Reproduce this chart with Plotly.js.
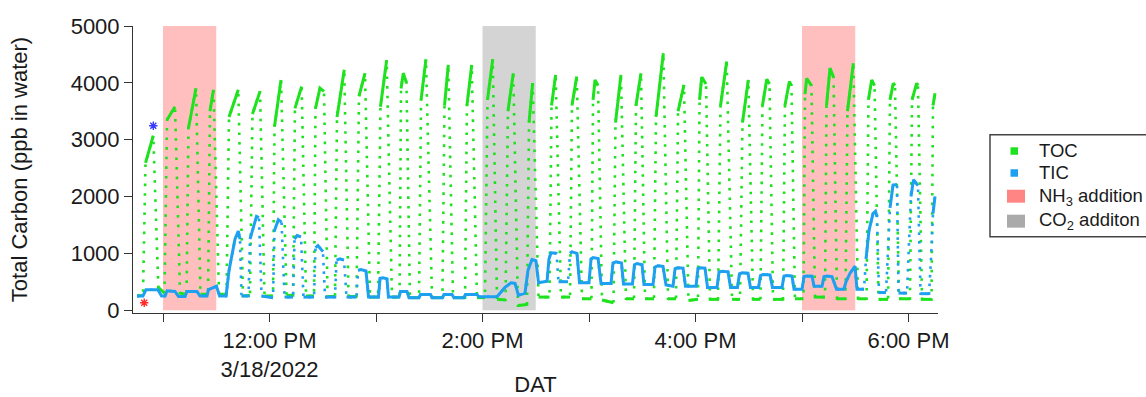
<!DOCTYPE html>
<html>
<head>
<meta charset="utf-8">
<script src="https://cdn.plot.ly/plotly-3.0.1.min.js"></script>
<style>html,body{margin:0;padding:0;background:#fff;}#chart{width:1146px;height:397px;}</style>
</head>
<body>
<div id="chart"></div>
<script>
// ---------- data (clock time in decimal hours, 3/18/2022) ----------
const TOC_HOUR = [
10.756,10.812,10.836,10.909,10.956,
11.014,11.038,11.113,11.160,
11.221,11.239,11.310,11.352,
11.423,11.441,11.474,11.526,
11.596,11.620,11.707,11.751,
11.817,11.840,11.911,11.953,
12.033,12.047,12.108,12.160,
12.221,12.239,12.302,12.343,
12.418,12.432,12.474,12.512,12.545,
12.615,12.634,12.702,12.742,
12.817,12.840,12.897,12.944,
13.019,13.042,13.100,13.150,
13.221,13.235,13.256,13.286,13.319,
13.404,13.423,13.469,13.526,
13.624,13.643,13.679,13.723,
13.836,13.854,13.899,13.948,
14.023,14.047,14.096,14.136,
14.216,14.239,14.289,14.333,
14.418,14.437,14.471,14.526,
14.629,14.648,14.687,14.737,
14.822,14.840,14.885,14.934,
15.023,15.038,15.056,15.085,15.122,
15.230,15.249,15.300,15.347,
15.423,15.441,15.488,15.526,
15.610,15.629,15.698,15.742,
15.817,15.836,15.892,15.934,
16.023,16.038,16.058,16.099,16.136,
16.211,16.235,16.293,16.343,
16.418,16.441,16.496,16.540,
16.610,16.629,16.669,16.695,16.728,
16.822,16.840,16.881,16.901,16.934,
17.014,17.028,17.044,17.089,17.122,
17.216,17.230,17.263,17.296,17.329,
17.408,17.427,17.482,17.526,
17.606,17.624,17.654,17.681,17.718,
17.808,17.826,17.857,17.873,17.911,
18.014,18.033,18.077,18.089,18.127,
18.216,18.230,18.249];
const TOC_PPB = [
250,260,2590,3070,400,
300,3350,3580,300,
280,3200,3906,280,
280,3500,3880,280,
280,3400,3880,250,
260,3450,3850,250,
250,3230,4050,260,
260,3550,3935,250,
250,3550,3906,3850,240,
240,3400,4230,240,
240,3760,4170,230,
230,3580,4400,230,
230,3900,4170,4000,220,
220,3700,4415,220,
220,3600,4315,220,
220,3600,4315,220,
220,3700,4415,190,
180,3500,4170,80,
100,3300,3994,230,
230,3600,4140,230,
230,3600,4110,200,
200,3700,4050,3950,180,
130,3300,4140,200,
200,3600,4170,200,
200,3400,4520,200,
200,3500,3964,170,
190,3700,4100,3980,190,
190,3600,4374,190,
190,3300,4052,190,
190,3600,4064,3980,190,
190,3600,4023,3950,200,
200,3800,4080,3950,230,
230,3600,4257,4100,200,
200,3500,4345,200,
200,3700,4052,3950,190,
190,3700,3994,3950,200,
200,3700,3994,3950,190,
190,3600,3818];

const TIC_HOUR = [
10.756,10.812,10.840,10.953,10.986,11.019,11.038,11.113,11.146,11.207,11.225,11.319,11.347,11.413,11.427,11.502,11.531,
11.592,11.620,11.676,11.707,11.723,11.737,
11.803,11.817,11.878,11.901,11.925,
12.033,12.047,12.083,12.113,12.141,
12.221,12.235,12.258,12.296,12.319,
12.418,12.432,12.455,12.502,12.521,
12.615,12.629,12.662,12.700,12.723,
12.817,12.831,12.859,12.906,12.930,
13.023,13.038,13.066,13.103,13.117,
13.216,13.230,13.291,13.310,
13.404,13.418,13.512,13.526,
13.624,13.638,13.714,13.732,
13.826,13.840,13.948,13.967,
14.136,14.211,14.268,14.305,14.338,
14.399,14.427,14.465,14.502,14.526,
14.606,14.624,14.643,14.695,14.714,
14.803,14.822,14.840,14.887,14.911,
15.000,15.019,15.038,15.085,15.113,
15.207,15.225,15.254,15.305,15.324,
15.408,15.427,15.451,15.498,15.516,
15.601,15.620,15.648,15.695,15.723,
15.789,15.808,15.836,15.883,15.906,
16.005,16.023,16.042,16.089,16.113,
16.202,16.221,16.249,16.305,16.329,
16.394,16.413,16.437,16.493,16.516,
16.592,16.610,16.634,16.700,16.723,
16.812,16.831,16.859,16.906,16.925,
17.000,17.019,17.047,17.094,17.113,
17.188,17.207,17.235,17.282,17.324,
17.394,17.413,17.451,17.498,17.516,
17.582,17.601,17.629,17.667,17.690,17.704,17.723,
17.789,17.808,17.826,17.855,17.892,17.906,
17.986,18.005,18.023,18.047,18.089,18.113,
18.193,18.211,18.230,18.249];
const TIC_PPB = [
250,250,360,360,250,250,340,330,240,240,330,330,250,250,360,420,250,
250,700,1250,1390,1250,250,
250,1250,1650,1630,250,
220,1400,1593,1550,230,
230,1250,1312,1290,230,
230,1100,1136,1030,230,
230,880,902,880,230,
230,700,715,690,230,
230,560,569,550,230,
230,330,330,220,
220,275,275,220,
220,275,275,220,
220,275,275,235,
235,400,481,470,260,
300,700,890,870,481,
510,900,1008,1000,500,
500,1000,1025,1000,481,
481,900,925,910,470,
470,830,850,830,460,
460,800,820,800,450,
450,760,780,770,445,
422,730,744,740,422,
422,730,744,740,400,
400,670,685,675,400,
400,640,656,650,400,
400,610,627,620,400,
400,600,610,600,370,
370,590,600,597,422,
422,590,600,590,370,
370,500,650,773,370,
370,900,1400,1700,1740,1650,310,
310,1100,1800,2200,2210,300,
300,1200,2000,2295,2190,290,
290,900,1700,2002];

const NH3_START = [11.0, 17.0];
const NH3_END   = [11.5, 17.5];
const CO2_START = [14.0];
const CO2_END   = [14.5];

const STAR_HOUR = [10.909, 10.824];
const STAR_PPB  = [3244, 130];
const STAR_COLOR = ['#3a3aff', '#ff2a2a'];

const X_TICK_HOURS = [12,14,16,18];
const X_TICK_TEXT  = ['12:00 PM<br>3/18/2022', '2:00 PM', '4:00 PM', '6:00 PM'];
const X_MINOR_HOURS = [11,13,15,17];
const Y_TICKS = [0,1000,2000,3000,4000,5000];

const LEGEND_LABELS = ['TOC', 'TIC', 'NH<sub>3</sub> addition', 'CO<sub>2</sub> additon'];

// ---------- styling ----------
const GREEN = '#1de21d', BLUE = '#1ea0f0';
const PINK = '#ffbfbf', GREY = '#d4d4d4', PINK_KEY = '#ff8585', GREY_KEY = '#aaaaaa';
const FONT = 'Liberation Sans, Arial, Helvetica, sans-serif';

function pad(n){ return String(n).padStart(2,'0'); }
function toTime(h){
  const s = Math.round(h*3600);
  return '2022-03-18 ' + pad(Math.floor(s/3600)) + ':' + pad(Math.floor((s%3600)/60)) + ':' + pad(s%60);
}
// fast changes look dotted (sparse samples), slow parts look solid
const FAST = 25000; // ppb per hour
function solidPart(h, v){
  const x = [], y = [];
  for (let i = 0; i < h.length; i++){
    x.push(toTime(h[i])); y.push(v[i]);
    if (i < h.length-1){
      const rate = Math.abs(v[i+1]-v[i]) / (h[i+1]-h[i]);
      if (rate > FAST){ x.push(null); y.push(null); }
    }
  }
  return {x, y};
}

const tocSolid = solidPart(TOC_HOUR, TOC_PPB);
const ticSolid = solidPart(TIC_HOUR, TIC_PPB);

const traces = [
  {type:'scatter', mode:'lines', name:'TOC', x:TOC_HOUR.map(toTime), y:TOC_PPB,
   line:{color:GREEN, width:2.6, dash:'2.6px,7px'}, hoverinfo:'skip'},
  {type:'scatter', mode:'lines', name:'TOC', x:tocSolid.x, y:tocSolid.y,
   line:{color:GREEN, width:3}, connectgaps:false, hoverinfo:'skip'},
  {type:'scatter', mode:'lines', name:'TIC', x:TIC_HOUR.map(toTime), y:TIC_PPB,
   line:{color:BLUE, width:2.6, dash:'2.6px,6px'}, hoverinfo:'skip'},
  {type:'scatter', mode:'lines', name:'TIC', x:ticSolid.x, y:ticSolid.y,
   line:{color:BLUE, width:3}, connectgaps:false, hoverinfo:'skip'},
  {type:'scatter', mode:'markers', x:STAR_HOUR.map(toTime), y:STAR_PPB,
   marker:{symbol:'asterisk-open', size:7, color:STAR_COLOR, line:{color:STAR_COLOR, width:1.4}}, hoverinfo:'skip'}
];

// plot-area pixel frame used for the hand-made legend
const L = 133, R = 938, T = 26, B = 313.5;
const px = x => (x - L) / (R - L);
const py = y => (B - y) / (B - T);

const shapes = [];
NH3_START.forEach((s,i) => shapes.push({type:'rect', xref:'x', yref:'y', layer:'below',
  x0:toTime(s), x1:toTime(NH3_END[i]), y0:0, y1:5000, fillcolor:PINK, line:{width:0}}));
CO2_START.forEach((s,i) => shapes.push({type:'rect', xref:'x', yref:'y', layer:'below',
  x0:toTime(s), x1:toTime(CO2_END[i]), y0:0, y1:5000, fillcolor:GREY, line:{width:0}}));

// legend box and keys
shapes.push({type:'rect', xref:'paper', yref:'paper', x0:px(990), x1:px(1165), y0:py(237), y1:py(135),
  line:{color:'#444', width:1.5}, fillcolor:'rgba(0,0,0,0)'});
const keyColors = [GREEN, BLUE, PINK_KEY, GREY_KEY];
const keyBoxes = [[1010.5,1018,147.5,155],[1010.5,1018,169.5,177],[1007,1025,190,203],[1007,1025,215,228]];
keyBoxes.forEach((b,i) => shapes.push({type:'rect', xref:'paper', yref:'paper',
  x0:px(b[0]), x1:px(b[1]), y0:py(b[3]), y1:py(b[2]), fillcolor:keyColors[i], line:{width:0}}));
const labelY = [151, 173, 197, 221];
const annotations = LEGEND_LABELS.map((t,i) => ({xref:'paper', yref:'paper', x:px(1037), y:py(labelY[i]),
  xanchor:'left', yanchor:'middle', text:t, showarrow:false, font:{family:FONT, size:18.5, color:'#1a1a1a'}}));

const layout = {
  width:1146, height:397,
  margin:{l:L, r:1146-R, t:T, b:397-B, pad:0},
  paper_bgcolor:'#ffffff', plot_bgcolor:'#ffffff',
  showlegend:false,
  font:{family:FONT, size:22, color:'#1a1a1a'},
  xaxis:{type:'date', range:[toTime(10.7183), toTime(18.277)],
    tickmode:'array', tickvals:X_TICK_HOURS.map(toTime), ticktext:X_TICK_TEXT,
    ticks:'outside', ticklen:8, tickwidth:1, tickcolor:'#333',
    minor:{tickmode:'array', tickvals:X_MINOR_HOURS.map(toTime), ticks:'outside', ticklen:8, tickwidth:1, tickcolor:'#333', showgrid:false},
    showline:true, linecolor:'#333', linewidth:1, showgrid:false, zeroline:false,
    tickfont:{family:FONT, size:22, color:'#1a1a1a'},
    title:{text:'DAT', font:{family:FONT, size:22, color:'#1a1a1a'}, standoff:4}},
  yaxis:{range:[-50,5000], tickmode:'array', tickvals:Y_TICKS,
    ticks:'outside', ticklen:8, tickwidth:1, tickcolor:'#333',
    showline:true, linecolor:'#333', linewidth:1, showgrid:false, zeroline:false,
    tickfont:{family:FONT, size:22, color:'#1a1a1a'},
    title:{text:'Total Carbon (ppb in water)', font:{family:FONT, size:22, color:'#1a1a1a'}, standoff:36}},
  shapes, annotations
};

Plotly.newPlot('chart', traces, layout, {staticPlot:true, displayModeBar:false});
</script>
</body>
</html>
